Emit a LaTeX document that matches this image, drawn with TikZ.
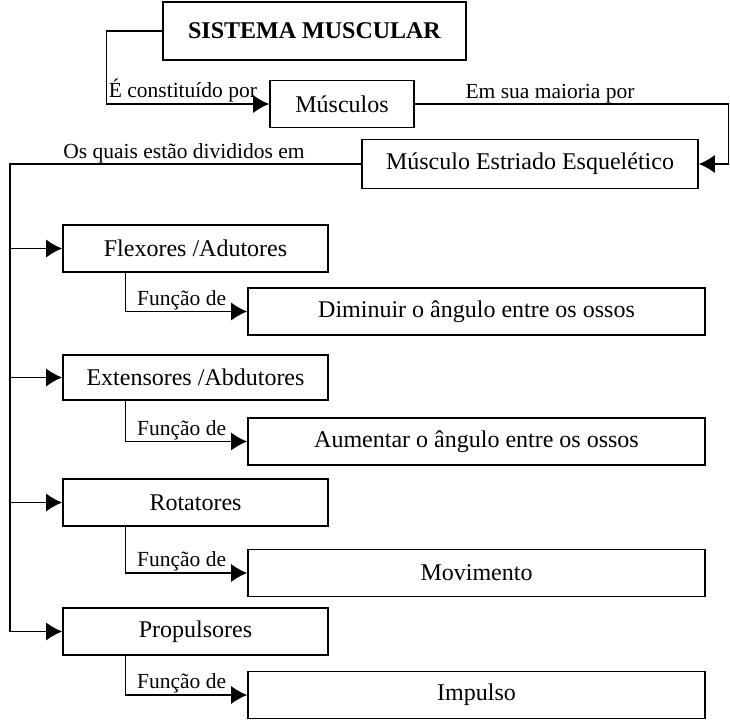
\documentclass[tikz,border=0pt]{standalone}
\usepackage{fontspec}
\setmainfont{Liberation Serif}
\usetikzlibrary{arrows.meta}
\begin{document}
\begin{tikzpicture}[x=1pt,y=-1pt,
    caixa/.style={draw, line width=1.6pt, minimum height=47pt, inner sep=0pt,
                  font=\fontsize{24}{28}\selectfont},
    rotulo/.style={font=\fontsize{21.5}{25}\selectfont, inner sep=1pt},
    seta/.style={-{Latex[length=16pt,width=18pt]}, line width=1.3pt},
    linha/.style={line width=1.2pt}]
\useasboundingbox (0,0) rectangle (730,720);
% caixas
\node[caixa, minimum width=303pt, minimum height=58pt, font=\fontsize{24}{28}\selectfont\bfseries] (sist) at (314.5,31) {SISTEMA MUSCULAR};
\node[caixa, minimum width=144pt] (musc) at (342,104) {Músculos};
\node[caixa, minimum width=336pt, minimum height=49pt] (estr) at (530,164) {Músculo Estriado Esquelético};
\node[caixa, minimum width=265pt] (flex) at (195.5,248.5) {Flexores /Adutores};
\node[caixa, minimum width=457pt] (dimi) at (476.5,311.5) {Diminuir o ângulo entre os ossos};
\node[caixa, minimum width=265pt, minimum height=45pt] (exte) at (195.5,377.5) {Extensores /Abdutores};
\node[caixa, minimum width=457pt] (aume) at (476.5,441.5) {Aumentar o ângulo entre os ossos};
\node[caixa, minimum width=265pt] (rota) at (195.5,502.5) {Rotatores};
\node[caixa, minimum width=457pt] (movi) at (476.5,573) {Movimento};
\node[caixa, minimum width=265pt] (prop) at (195.5,631.5) {Propulsores};
\node[caixa, minimum width=457pt] (impu) at (476.5,695) {Impulso};
% ligacoes
\draw[seta] (sist.west) -- ++(-56,0) |- (musc.west)
    node[rotulo, pos=0.5, anchor=south west, xshift=1pt] {É constituído por};
\draw[seta] (musc.east) -- ++(314,0) coordinate (m1) |- (estr.east);
\node[rotulo, anchor=south] at (550,104) {Em sua maioria por};
\coordinate (tronco) at (10,164);
\draw[linha] (estr.west) -- (tronco) -- (tronco |- prop.west);
\node[rotulo, anchor=south] at (184,164) {Os quais estão divididos em};
\foreach \g in {flex,exte,rota,prop}
    \draw[seta] (tronco |- \g.west) -- (\g.west);
\foreach \a/\b in {flex/dimi,exte/aume,rota/movi,prop/impu}
    \draw[seta] ([xshift=-70pt]\a.south) |- (\b.west)
        node[rotulo, pos=0.5, anchor=south west, xshift=10pt] {Função de};
\end{tikzpicture}
\end{document}
